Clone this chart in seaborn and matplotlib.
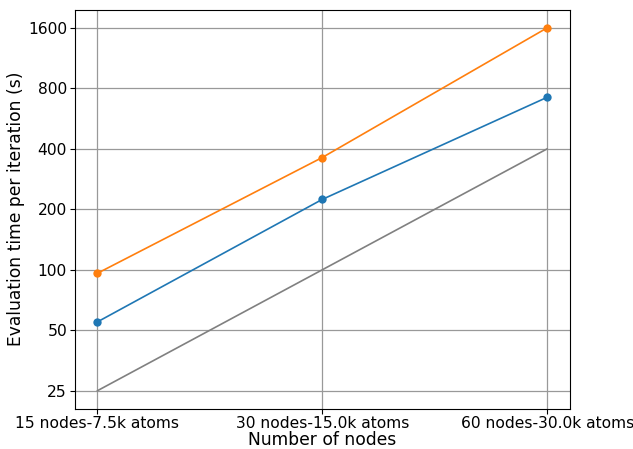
import matplotlib
matplotlib.use("Agg")
import matplotlib.pyplot as plt
import matplotlib.ticker as mticker
import seaborn as sns
import pandas as pd

# ── Data ───────────────────────────────────────────────────────────────────────
labels = ["15 nodes-7.5k atoms", "30 nodes-15.0k atoms", "60 nodes-30.0k atoms"]
time_a = [55, 224, 722]      # blue
time_b = [96, 362, 1600]     # orange
ideal = [25, 100, 400]       # gray reference
y_ticks = [25, 50, 100, 200, 400, 800, 1600]

df = pd.DataFrame({"label": labels, "pos": range(len(labels)),
                   "a": time_a, "b": time_b, "ideal": ideal})

# ── Plot ───────────────────────────────────────────────────────────────────────
sns.set_style("ticks", {"xtick.major.size": 3.5, "ytick.major.size": 3.5,
                        "text.color": "black", "axes.labelcolor": "black",
                        "xtick.color": "black", "ytick.color": "black",
                        "axes.edgecolor": "black"})
plt.rcParams["font.family"] = ["DejaVu Sans"]

fig, ax = plt.subplots(figsize=(6.33, 4.49), dpi=100)
sns.lineplot(data=df, x="pos", y="a", ax=ax, color="#1f77b4", marker="o",
             markersize=6, markeredgewidth=0, linewidth=1.2)
sns.lineplot(data=df, x="pos", y="b", ax=ax, color="#ff7f0e", marker="o",
             markersize=6, markeredgewidth=0, linewidth=1.2)
sns.lineplot(data=df, x="pos", y="ideal", ax=ax, color="gray", linewidth=1.2)

ax.set_yscale("log", base=2)
ax.set_yticks(y_ticks)
ax.yaxis.set_major_formatter(mticker.FixedFormatter([str(t) for t in y_ticks]))
ax.yaxis.set_minor_locator(mticker.NullLocator())
ax.set_ylim(20.4, 1965)
ax.set_xlim(-0.1, 2.1)
ax.set_xticks(df["pos"])
ax.set_xticklabels(labels)

ax.grid(True, color="#999999", linewidth=0.9)
ax.tick_params(labelsize=11.2, length=3.5, pad=2)
ax.set_xlabel("Number of nodes", fontsize=12.3, labelpad=0)
ax.set_ylabel("Evaluation time per iteration (s)", fontsize=12.3, labelpad=2)

fig.subplots_adjust(left=0.118, right=0.9, top=0.978, bottom=0.09)
plt.savefig("out.png", dpi=100)
plt.close()
